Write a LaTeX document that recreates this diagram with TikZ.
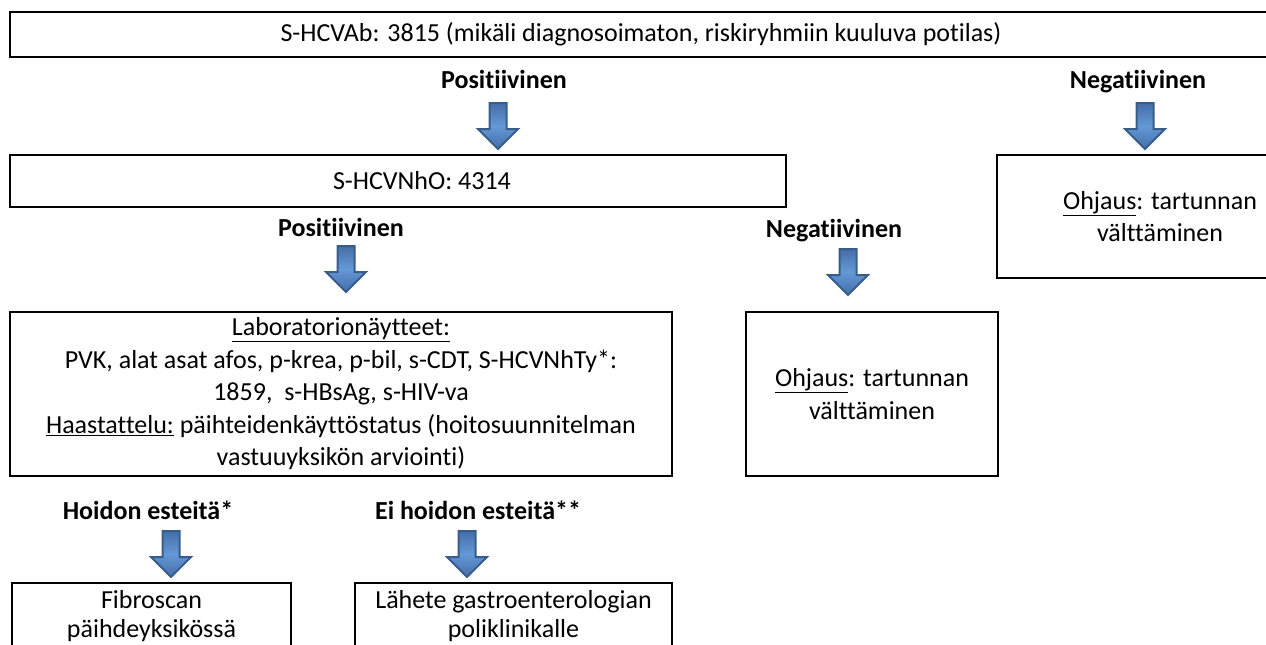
\documentclass[tikz,border=0pt]{standalone}
\usepackage{fontspec}
\setmainfont{Carlito}[Ligatures={NoCommon,NoContextual}]
\usetikzlibrary{shapes.arrows}
\definecolor{arrowedge}{RGB}{56,93,138}
\definecolor{arrowdark}{RGB}{68,110,168}
\definecolor{arrowlight}{RGB}{100,152,214}

\begin{document}
\begin{tikzpicture}[x=1pt,y=-1pt,font=\fontsize{26}{32.5}\selectfont]
	\useasboundingbox (0,0) rectangle (1266,645);

	\begin{scope}[every node/.style={draw,line width=2.5pt,align=center,inner sep=0pt}]
		\node[minimum width=1262pt,minimum height=45pt] (HCVAb) at (641,34.5) {S-HCVAb: 3815 (mikäli diagnosoimaton, riskiryhmiin kuuluva potilas)};
		\node[minimum width=776pt,minimum height=52pt] (NhO) at (398,181) {\hspace*{48pt}S-HCVNhO: 4314};
		\node[minimum width=326pt,minimum height=123pt] (Ohj1) at (1160,216.5) {\underline{Ohjaus}: tartunnan\\välttäminen};
		\node[minimum width=662pt,minimum height=164pt] (Lab) at (341,394) {\underline{Laboratorionäytteet:}\\PVK, alat asat afos, p-krea, p-bil, s-CDT, S-HCVNhTy*:\\1859, \ s-HBsAg, s-HIV-va\\\underline{Haastattelu:} päihteidenkäyttöstatus (hoitosuunnitelman\\vastuuyksikön arviointi)};
		\node[minimum width=252pt,minimum height=164pt] (Ohj2) at (872,394) {\underline{Ohjaus}: tartunnan\\välttäminen};
		\node[minimum width=279pt,minimum height=66pt,font=\fontsize{26}{29}\selectfont] (Fib) at (151.5,616) {Fibroscan\\päihdeyksikössä};
		\node[minimum width=317pt,minimum height=66pt,font=\fontsize{26}{29}\selectfont] (Lah) at (513.5,616) {Lähete gastroenterologian\\poliklinikalle};
	\end{scope}

	\begin{scope}[every node/.style={font=\fontsize{26}{32.5}\selectfont\bfseries,inner sep=0pt,anchor=base}]
		\node (Pos1) at (504,88.5) {Positiivinen};
		\node (Neg1) at (1138,88.5) {Negatiivinen};
		\node (Pos2) at (341,236.5) {Positiivinen};
		\node (Neg2) at (834,237.5) {Negatiivinen};
		\node (Hoi) at (148,519.5) {Hoidon esteitä*};
		\node (EiHoi) at (478,519.5) {Ei hoidon esteitä**};
	\end{scope}

	\begin{scope}[every node/.style={single arrow,rotate=-90,anchor=tail,draw=arrowedge,line width=2pt,
			top color=arrowdark,bottom color=arrowdark,middle color=arrowlight,
			minimum height=46pt,minimum width=38pt,single arrow head extend=11.5pt,
			inner xsep=0pt,inner ysep=7.5pt}]
		\node (aPos1) at (498,102) {};
		\node (aNeg1) at (1145,102) {};
		\node (aPos2) at (346,245) {};
		\node (aNeg2) at (848,248) {};
		\node (aHoi) at (171,530) {};
		\node (aEiHoi) at (467,530) {};
	\end{scope}
\end{tikzpicture}
\end{document}
